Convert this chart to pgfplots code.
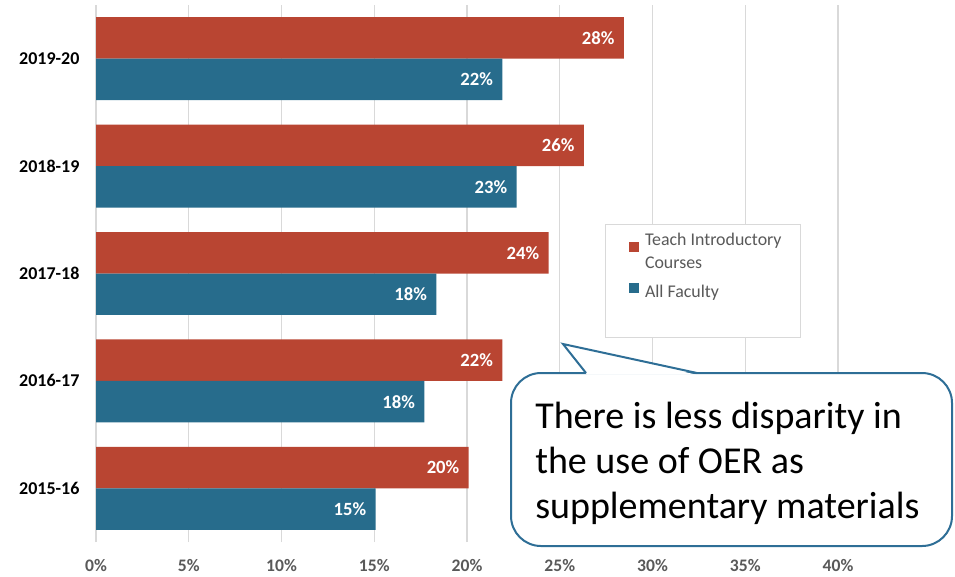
\documentclass[border=0pt]{standalone}
\usepackage{fontspec}
\setmainfont{Carlito}
\usepackage{pgfplots}
\usepackage{pgfplotstable}
\pgfplotsset{compat=1.18}
\definecolor{cred}{HTML}{B94532}
\definecolor{cblue}{HTML}{276C8C}
\definecolor{cline}{HTML}{2E6E96}
\definecolor{cgrid}{HTML}{D9D9D9}
\definecolor{ctick}{HTML}{595959}
\pgfplotstableread{
y x
0 20.09
1 21.9
2 24.4
3 26.3
4 28.45
}\teach
\pgfplotstableread{
y x
0 15.07
1 17.7
2 18.35
3 22.67
4 21.9
}\allfac
\begin{document}
\begin{tikzpicture}
\useasboundingbox (0,0) rectangle (716.25pt,-432pt);
\begin{axis}[
  xbar,
  scale only axis,
  width=556.5pt, height=402.75pt,
  at={(72pt,-3.75pt)}, anchor=north west,
  xmin=0, xmax=40, ymin=-0.5, ymax=4.5,
  ytick={0,1,2,3,4},
  yticklabels={2015-16,2016-17,2017-18,2018-19,2019-20},
  xtick={0,5,...,40},
  /pgf/number format/assume math mode=true,
  xticklabel={\pgfmathprintnumber{\tick}\%},
  axis line style={draw=none},
  major tick style={draw=none},
  xmajorgrids,
  grid style={color=cgrid, line width=1pt},
  yticklabel style={font=\fontsize{13.5}{16}\selectfont\bfseries, text=black, inner xsep=0pt, xshift=-8pt},
  xticklabel style={font=\fontsize{13.2}{15}\selectfont\bfseries, text=ctick, yshift=-9.5pt},
  bar width=0.386,
  nodes near coords={\pgfmathprintnumber[fixed,precision=0]{\pgfplotspointmeta}\%},
  every node near coord/.append style={anchor=east, xshift=-3.5pt, text=white, font=\fontsize{14}{16}\selectfont\bfseries},
  legend cell align=left,
  legend image code/.code={\path (-5.5pt,0pt) (10pt,0pt); \fill[#1] (0pt,-0.5pt) rectangle (7.5pt,7pt);},
  legend style={at={(0.686,0.592)}, anchor=north west, draw=cgrid, line width=1pt, fill=white,
    font=\fontsize{13.4}{17.25}\selectfont, text=ctick, cells={align=left},
    inner xsep=12pt, inner ysep=4pt, row sep=7pt},
]
\addplot[fill=cred, draw=none, bar shift=0.193] table[x=x,y=y]{\teach};
\addlegendentry{Teach Introductory\\Courses}
\addplot[fill=cblue, draw=none, bar shift=-0.193] table[x=x,y=y]{\allfac};
\addlegendentry{All Faculty}
\addlegendimage{empty legend}
\addlegendentry{\rule{0pt}{10pt}}
\end{axis}
\begin{scope}[x=0.75pt,y=-0.75pt]
  \draw[cline, line width=1.5pt, fill=white, rounded corners=22.5pt] (511,373) rectangle (952,546);
  \fill[white] (587,374.6) -- (563,344) -- (696,374.6) -- cycle;
  \draw[cline, line width=1.5pt, line join=miter] (586,373) -- (563,344) -- (697,373);
  \node[anchor=base west, align=left, inner sep=0pt, font=\fontsize{28.5}{33.75}\selectfont] at (535,518)
    {There is less disparity in\\the use of OER as\\supplementary materials};
\end{scope}
\end{tikzpicture}
\end{document}
